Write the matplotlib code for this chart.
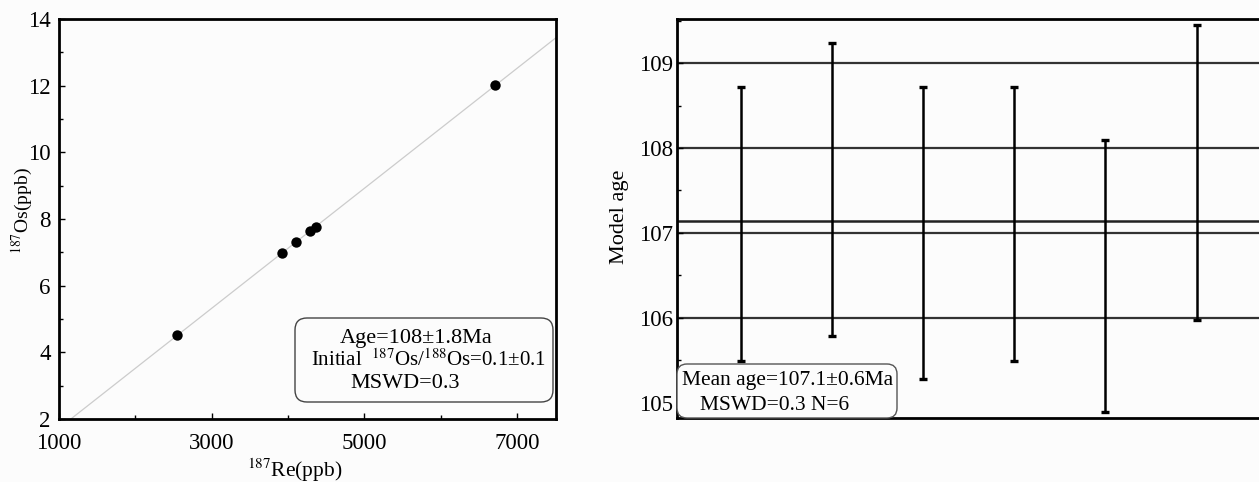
import matplotlib
matplotlib.use("Agg")
import matplotlib.pyplot as plt
from matplotlib.patches import FancyBboxPatch
from matplotlib.transforms import IdentityTransform
import numpy as np

# ---- data ----
re187 = [2540, 3920, 4100, 4290, 4360, 6710]
os187 = [4.52, 6.97, 7.31, 7.65, 7.75, 12.01]
iso_slope = 0.0018
iso_intercept = -0.079
left_xticks = [1000, 3000, 5000, 7000]
left_yticks = [2, 4, 6, 8, 10, 12, 14]

sample_idx = [1, 2, 3, 4, 5, 6]
model_age = [107.105, 107.515, 107.00, 107.105, 106.495, 107.715]
model_err = [1.615, 1.725, 1.72, 1.615, 1.605, 1.735]
mean_age = 107.135
right_yticks = [105, 106, 107, 108, 109]

plt.rcParams['font.family'] = ['Liberation Serif', 'DejaVu Serif']
plt.rcParams['mathtext.fontset'] = 'stix'

W, H = 1259, 482
bg = '#fcfcfc'
fig = plt.figure(figsize=(W/100, H/100), dpi=100, facecolor=bg)

def px_box(x0, y0, x1, y1):
    # pixel box (top-left origin) -> figure fraction [l, b, w, h]
    return [x0/W, 1-y1/H, (x1-x0)/W, (y1-y0)/H]

def rbox(x0, y0, x1, y1, r, ec):
    p = FancyBboxPatch((x0, H-y1), x1-x0, y1-y0,
                       boxstyle='round,pad=0,rounding_size=%g' % r,
                       transform=IdentityTransform(), fc=bg, ec=ec, lw=1.0, zorder=5)
    fig.add_artist(p)

# ---- left: isochron ----
ax1 = fig.add_axes(px_box(59, 19, 556, 419), facecolor=bg)
xl = np.array([1000, 7510])
ax1.plot(xl, iso_intercept + iso_slope*xl, color='#cccccc', lw=0.9, zorder=1)
ax1.scatter(re187, os187, s=56, color='black', zorder=3, linewidths=0)
ax1.set_xlim(1000, 7510)
ax1.set_ylim(2, 14)
ax1.set_xticks(left_xticks)
ax1.set_xticks([2000, 4000, 6000], minor=True)
ax1.set_yticks(left_yticks)
ax1.set_yticks([3, 5, 7, 9, 11, 13], minor=True)
ax1.tick_params(axis='y', direction='in', labelsize=16.5, length=4, width=1, pad=6)
ax1.tick_params(axis='x', direction='in', labelsize=16.5, length=4, width=1, pad=10)
ax1.tick_params(which='minor', direction='in', length=3, width=1)
for s in ax1.spines.values():
    s.set_linewidth(2)
ax1.set_xlabel(r'$^{187}$Re(ppb)', fontsize=15.5, va='center')
ax1.xaxis.set_label_coords(0.475, -0.1275)
ax1.set_ylabel(r'$^{187}$Os(ppb)', fontsize=14, va='center')
ax1.yaxis.set_label_coords(-0.074, 0.52)

rbox(295, 318, 553, 402, 12, '#444444')
box_fs = 16
fig.text(416/W, 1-338/H, 'Age=108±1.8Ma', ha='center', va='center', fontsize=box_fs, zorder=6)
fig.text(428/W, 1-360/H, r'Initial  $^{187}$Os/$^{188}$Os=0.1±0.1', ha='center', va='center',
         fontsize=15, zorder=6)
fig.text(405/W, 1-383/H, 'MSWD=0.3', ha='center', va='center', fontsize=box_fs, zorder=6)

# ---- right: model ages ----
ax2 = fig.add_axes(px_box(677, 19, 1306, 418), facecolor=bg)
ax2.set_xlim(0.3, 7.2)
ax2.set_ylim(104.82, 109.52)
for v in [106, 107, 108, 109]:
    ax2.axhline(v, color='#333333', lw=1.6, zorder=1)
ax2.axhline(mean_age, color='#222222', lw=1.8, zorder=1)
ax2.errorbar(sample_idx, model_age, yerr=model_err, fmt='none', ecolor='black',
             elinewidth=1.8, capsize=2.6, capthick=2.4, zorder=3)
ax2.set_xticks([])
ax2.set_yticks(right_yticks)
ax2.set_yticks([105.5, 106.5, 107.5, 108.5, 109.5], minor=True)
ax2.tick_params(direction='in', labelsize=16.5, length=4, width=1, pad=3)
ax2.tick_params(which='minor', direction='in', length=3, width=1)
for s in ax2.spines.values():
    s.set_linewidth(2)
ax2.set_ylabel('Model age', fontsize=16, va='center')
ax2.yaxis.set_label_coords(-0.092, 0.504)

rbox(677, 364, 897, 418, 10, '#555555')
fig.text(788/W, 1-381/H, 'Mean age=107.1±0.6Ma', ha='center', va='center', fontsize=15.5, zorder=6)
fig.text(775/W, 1-405/H, 'MSWD=0.3 N=6', ha='center', va='center', fontsize=15.5, zorder=6)

fig.savefig('out.png', dpi=100, facecolor=bg)
